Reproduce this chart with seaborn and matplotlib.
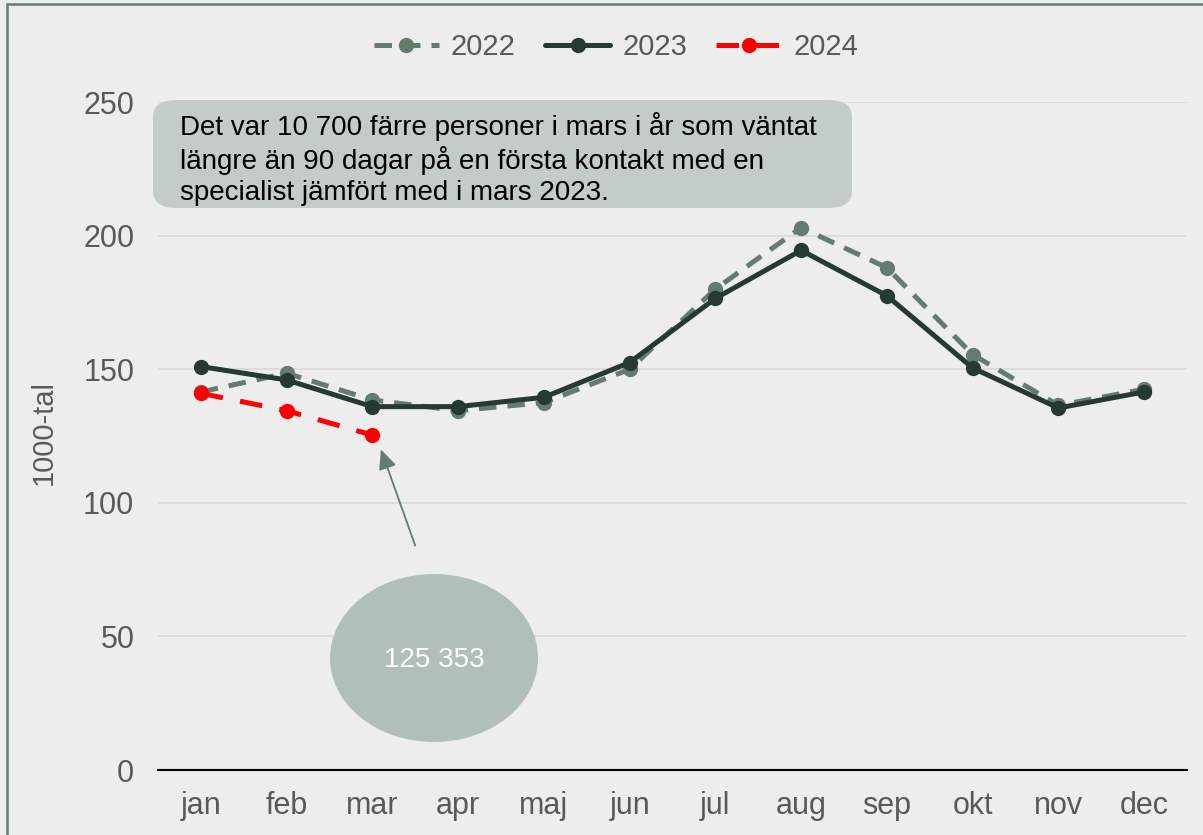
import matplotlib
matplotlib.use("Agg")
import matplotlib.pyplot as plt
from matplotlib.patches import FancyBboxPatch, Ellipse, Rectangle
import pandas as pd
import seaborn as sns

# Data
months = ["jan", "feb", "mar", "apr", "maj", "jun", "jul", "aug", "sep", "okt", "nov", "dec"]
v2022 = [141.5, 148.5, 138.5, 134.5, 137.5, 150.0, 180.0, 203.0, 188.0, 155.5, 136.5, 142.5]
v2023 = [151.0, 146.0, 136.0, 136.0, 139.5, 152.5, 176.5, 194.5, 177.5, 150.5, 135.5, 141.5]
v2024 = [141.0, 134.5, 125.353]
yticks = [0, 50, 100, 150, 200, 250]
note = ("Det var 10 700 färre personer i mars i år som väntat\n"
        "längre än 90 dagar på en första kontakt med en\n"
        "specialist jämfört med i mars 2023.")
bubble_label = "125 353"

bg = "#EDEDED"
c22 = "#647C70"
c23 = "#263A32"
c24 = "#FF0000"
txt = "#595959"

sns.set_theme(style="white")
plt.rcParams["font.family"] = ["Liberation Sans", "DejaVu Sans"]

fig = plt.figure(figsize=(12.03, 8.35), dpi=100, facecolor=bg)
ax = fig.add_axes([0.1313, 0.0778, 0.8554, 0.8000])
ax.set_facecolor(bg)

df22 = pd.DataFrame({"x": range(len(v2022)), "y": v2022})
df23 = pd.DataFrame({"x": range(len(v2023)), "y": v2023})
df24 = pd.DataFrame({"x": range(len(v2024)), "y": v2024})

sns.lineplot(data=df22, x="x", y="y", ax=ax, color=c22, lw=3.6, marker="o",
             markersize=11, markeredgewidth=0, label="2022", zorder=3)
ax.lines[-1].set_dashes([3.5, 2.2])
sns.lineplot(data=df23, x="x", y="y", ax=ax, color=c23, lw=3.6, marker="o",
             markersize=11, markeredgewidth=0, label="2023", zorder=4)
sns.lineplot(data=df24, x="x", y="y", ax=ax, color=c24, lw=3.6, marker="o",
             markersize=11, markeredgewidth=0, label="2024", zorder=5)
ax.lines[-1].set_dashes([4.5, 3.5])

ax.set_xlim(-0.5, len(months) - 0.5)
ax.set_ylim(0, 250)
ax.set_xticks(range(len(months)))
ax.set_xticklabels(months)
ax.set_yticks(yticks)
ax.tick_params(axis="both", labelsize=22, colors=txt, length=0)
ax.tick_params(axis="x", pad=15)
ax.tick_params(axis="y", pad=17)
ax.grid(axis="y", color="#D9D9D9", lw=1.2)
ax.set_axisbelow(True)
for s in ["top", "right", "left"]:
    ax.spines[s].set_visible(False)
ax.spines["bottom"].set_color("black")
ax.spines["bottom"].set_linewidth(1.5)
ax.set_xlabel("")
ax.set_ylabel("1000-tal", fontsize=21, color=txt, labelpad=6)
ax.yaxis.set_label_coords(-0.097, 0.505)

leg = ax.legend(loc="center", bbox_to_anchor=(0.445, 1.082), ncol=3, frameon=False,
                fontsize=21, handlelength=2.25, columnspacing=1.0, handletextpad=0.4)
for t in leg.get_texts():
    t.set_color(txt)

# note box
box = FancyBboxPatch((153 / 1203, 1 - 208 / 835), 699 / 1203, 108 / 835,
                     boxstyle="round,pad=0,rounding_size=0.02", transform=fig.transFigure,
                     facecolor="#C3CCC6", edgecolor="none", zorder=6)
fig.patches.append(box)
fig.text(180 / 1203, 1 - 159 / 835, note, fontsize=20, color="black", va="center",
         ha="left", linespacing=1.22, zorder=10)

# bubble and arrow
ell = Ellipse((434 / 1203, 1 - 658 / 835), 208 / 1203, 168 / 835, transform=fig.transFigure,
              facecolor="#B0C0B9", edgecolor="none", zorder=6)
fig.patches.append(ell)
fig.text(434 / 1203, 1 - 660 / 835, bubble_label, fontsize=20, color="white",
         ha="center", va="center", zorder=10)
ax.annotate("", xy=(2.1, 120), xytext=(2.5, 84),
            arrowprops=dict(arrowstyle="-|>,head_length=1.0,head_width=0.45",
                            color=c22, lw=1.3, shrinkA=0, shrinkB=0))

# outer border (left and top visible)
fig.patches.append(Rectangle((7 / 1203, -0.1), 1.2, 1 - 4 / 835 + 0.1,
                             transform=fig.transFigure, fill=False,
                             edgecolor=c22, lw=1.8))

fig.savefig("out.png", dpi=100, facecolor=bg)
